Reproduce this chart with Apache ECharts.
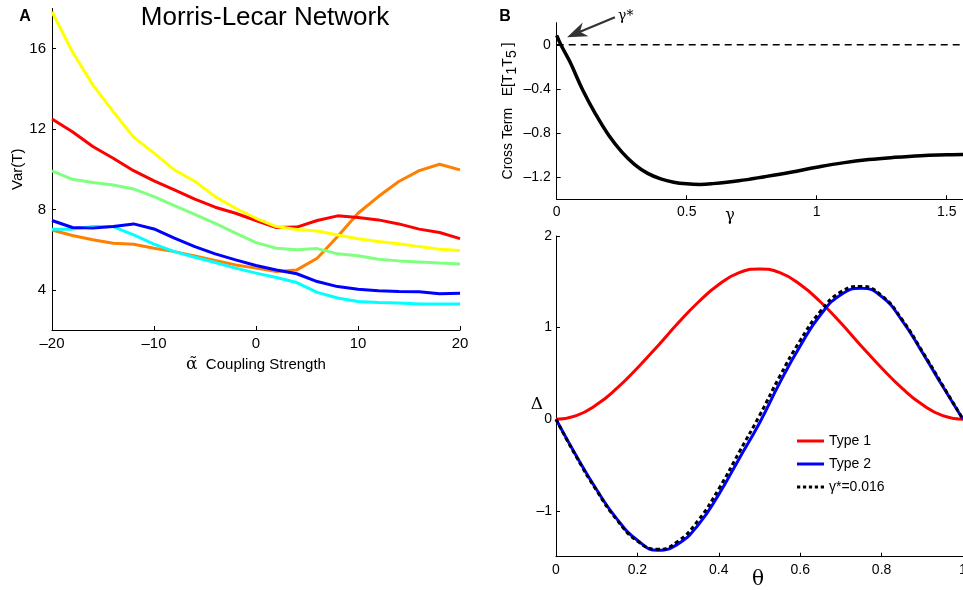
<!DOCTYPE html>
<html><head><meta charset="utf-8">
<script src="https://cdn.jsdelivr.net/npm/echarts@6/dist/echarts.min.js"></script>
<style>html,body{margin:0;padding:0;background:#fff}#c{width:963px;height:590px}</style>
</head><body><div id="c"></div>
<script>
// Panel A data
const alpha = [-20,-18,-16,-14,-12,-10,-8,-6,-4,-2,0,2,4,6,8,10,12,14,16,18,20];
const yellowVar = [17.84,15.85,14.2,12.87,11.6,10.8,9.97,9.4,8.64,8.06,7.56,7.15,7.0,6.93,6.73,6.54,6.4,6.29,6.15,6.02,5.96];
const redVar    = [12.5,11.87,11.13,10.55,9.93,9.42,8.97,8.51,8.11,7.81,7.45,7.1,7.12,7.45,7.68,7.6,7.48,7.28,7.02,6.85,6.55];
const greenVar  = [9.92,9.5,9.34,9.22,9.02,8.64,8.19,7.76,7.31,6.82,6.35,6.07,5.99,6.05,5.79,5.69,5.52,5.44,5.39,5.33,5.29];
const blueVar   = [7.45,7.1,7.07,7.15,7.28,7.03,6.57,6.15,5.79,5.49,5.21,4.99,4.8,4.41,4.16,4.03,3.95,3.92,3.9,3.8,3.83];
const cyanVar   = [7.02,7.02,7.15,7.15,6.73,6.27,5.9,5.62,5.36,5.08,4.83,4.61,4.36,3.87,3.59,3.42,3.37,3.34,3.3,3.3,3.3];
const orangeVar = [6.98,6.7,6.49,6.32,6.27,6.07,5.9,5.69,5.46,5.24,5.08,4.91,4.99,5.57,6.65,7.81,8.64,9.39,9.93,10.25,9.97];
const varTicks = [4,8,12,16];

// Panel B top data
const gamma = [0,0.016,0.05,0.1,0.15,0.2,0.25,0.3,0.35,0.4,0.45,0.5,0.55,0.6,0.7,0.8,0.9,1.0,1.1,1.2,1.3,1.4,1.5,1.5625];
const crossTerm = [0.085,0,-0.15,-0.41,-0.63,-0.82,-0.97,-1.085,-1.165,-1.215,-1.245,-1.26,-1.265,-1.258,-1.232,-1.195,-1.155,-1.11,-1.07,-1.04,-1.02,-1.005,-0.997,-0.993];
const crossTicks = [-1.2,-0.8,-0.4,0];
const gammaTicks = [0,0.5,1,1.5];

// Panel B bottom data
const theta = [0,0.05,0.1,0.15,0.2,0.25,0.3,0.35,0.4,0.45,0.5,0.55,0.6,0.65,0.7,0.75,0.8,0.85,0.9,0.95,1];
const type1 = [0,0.04,0.16,0.34,0.56,0.80,1.05,1.28,1.47,1.60,1.64,1.60,1.47,1.28,1.05,0.80,0.56,0.34,0.16,0.04,0];
const type2 = [0,-0.40,-0.77,-1.09,-1.32,-1.43,-1.36,-1.15,-0.82,-0.43,-0.04,0.40,0.80,1.14,1.36,1.43,1.34,1.08,0.73,0.36,0];
const gammaStar = [0,-0.41,-0.78,-1.10,-1.33,-1.42,-1.33,-1.10,-0.76,-0.36,0.04,0.47,0.86,1.18,1.39,1.45,1.35,1.09,0.74,0.37,0];
const deltaTicks = [-1,0,1,2];

const FONT = 'Liberation Sans, Arial, sans-serif';
const SERIF = 'DejaVu Serif, serif';
const minus = v => String(+(+v).toFixed(3)).replace('-', '\u2013');
const zip = (xs, ys) => xs.map((x, i) => [x, ys[i]]);

function axisBase(extra) {
  return Object.assign({
    axisLine: {show: true, onZero: false, lineStyle: {color: '#000', width: 1}},
    axisTick: {show: true, inside: true, length: 4, lineStyle: {color: '#000'}},
    splitLine: {show: false},
    axisLabel: {color: '#000', fontFamily: FONT, fontSize: 13, formatter: minus}
  }, extra);
}

const chart = echarts.init(document.getElementById('c'), null, {renderer: 'canvas'});
const lineA = (name, data, color) => ({
  type: 'line', name, xAxisIndex: 0, yAxisIndex: 0, data: zip(alpha, data),
  showSymbol: false, symbol: 'none', lineStyle: {color, width: 3}, itemStyle: {color}, z: 3
});

const solidIcon = 'path://M0,0h27v3h-27z';
const dashIcon = 'path://M0,0h3.3v3h-3.3z M6,0h3.3v3h-3.3z M12,0h3.3v3h-3.3z M18,0h3.3v3h-3.3z M24,0h3.3v3h-3.3z';

chart.setOption({
  animation: false,
  backgroundColor: '#fff',
  grid: [
    {left: 52, top: 8.5, width: 408, height: 321.5, outerBoundsMode: 'none', containLabel: false},
    {left: 556.7, top: 22.7, width: 406.3, height: 176.6, outerBoundsMode: 'none', containLabel: false},
    {left: 556, top: 236, width: 407, height: 320.7, outerBoundsMode: 'none', containLabel: false}
  ],
  xAxis: [
    axisBase({gridIndex: 0, type: 'value', min: -20, max: 20, interval: 10,
      name: '{a|α\u0303}  Coupling Strength', nameLocation: 'middle', nameGap: 22,
      nameTextStyle: {color: '#000', fontFamily: FONT, fontSize: 15,
        rich: {a: {fontFamily: SERIF, fontSize: 17, color: '#000'}}},
      axisLabel: {color: '#000', fontFamily: FONT, fontSize: 15, margin: 6, formatter: minus}}),
    axisBase({gridIndex: 1, type: 'value', min: 0, max: 1.5625,
      axisTick: {show: true, inside: true, length: 4, lineStyle: {color: '#000'}, customValues: gammaTicks},
      axisLabel: {color: '#000', fontFamily: FONT, fontSize: 14, margin: 6, formatter: minus, customValues: gammaTicks}}),
    axisBase({gridIndex: 2, type: 'value', min: 0, max: 1, interval: 0.2,
      axisLabel: {color: '#000', fontFamily: FONT, fontSize: 14, margin: 6, formatter: minus, showMaxLabel: true}})
  ],
  yAxis: [
    axisBase({gridIndex: 0, type: 'value', min: 2, max: 18,
      name: 'Var(T)', nameLocation: 'middle', nameGap: 27,
      nameTextStyle: {color: '#000', fontFamily: FONT, fontSize: 15},
      axisTick: {show: true, inside: true, length: 4, lineStyle: {color: '#000'}, customValues: varTicks},
      axisLabel: {color: '#000', fontFamily: FONT, fontSize: 15, margin: 6, formatter: minus, customValues: varTicks}}),
    axisBase({gridIndex: 1, type: 'value', min: -1.4, max: 0.2,
      name: 'Cross Term   E[T{s|1}T{s|5} ]', nameLocation: 'middle', nameGap: 38,
      nameTextStyle: {color: '#000', fontFamily: FONT, fontSize: 14,
        rich: {s: {fontFamily: FONT, fontSize: 14, color: '#000', padding: [0, 0, -8, 0]}}},
      axisTick: {show: true, inside: true, length: 4, lineStyle: {color: '#000'}, customValues: crossTicks},
      axisLabel: {color: '#000', fontFamily: FONT, fontSize: 14, margin: 6, formatter: minus, customValues: crossTicks}}),
    axisBase({gridIndex: 2, type: 'value', min: -1.5, max: 2,
      axisTick: {show: true, inside: true, length: 4, lineStyle: {color: '#000'}, customValues: deltaTicks},
      axisLabel: {color: '#000', fontFamily: FONT, fontSize: 14, margin: 4, formatter: minus, customValues: deltaTicks}})
  ],
  legend: {
    show: true, orient: 'vertical', left: 792, top: 428, itemWidth: 27, itemHeight: 3, itemGap: 7,
    data: [
      {name: 'Type 1', icon: solidIcon, itemStyle: {color: '#ff0000'}},
      {name: 'Type 2', icon: solidIcon, itemStyle: {color: '#0000ff'}},
      {name: 'γ*=0.016', icon: dashIcon, itemStyle: {color: '#000'}}
    ],
    textStyle: {color: '#000', fontFamily: FONT, fontSize: 14, lineHeight: 16},
    backgroundColor: 'transparent'
  },
  series: [
    lineA('orange', orangeVar, '#ff8000'),
    lineA('cyan', cyanVar, '#00ffff'),
    lineA('blue', blueVar, '#0000ff'),
    lineA('green', greenVar, '#80ff80'),
    lineA('red', redVar, '#ff0000'),
    lineA('yellow', yellowVar, '#ffff00'),
    {
      type: 'line', name: 'zero', xAxisIndex: 1, yAxisIndex: 1,
      data: [[0, 0], [1.5625, 0]], showSymbol: false, symbol: 'none',
      lineStyle: {color: '#000', width: 1.5, type: [7, 5]}
    },
    {
      type: 'line', name: 'cross', xAxisIndex: 1, yAxisIndex: 1,
      data: zip(gamma, crossTerm), smooth: 0.4, showSymbol: false, symbol: 'none',
      lineStyle: {color: '#000', width: 3.5}, clip: false
    },
    {
      type: 'line', name: 'Type 1', xAxisIndex: 2, yAxisIndex: 2,
      data: zip(theta, type1), smooth: true, showSymbol: false, symbol: 'none',
      lineStyle: {color: '#ff0000', width: 3}, itemStyle: {color: '#ff0000'}
    },
    {
      type: 'line', name: 'Type 2', xAxisIndex: 2, yAxisIndex: 2,
      data: zip(theta, type2), smooth: true, showSymbol: false, symbol: 'none',
      lineStyle: {color: '#0000ff', width: 3}, itemStyle: {color: '#0000ff'}
    },
    {
      type: 'line', name: 'γ*=0.016', xAxisIndex: 2, yAxisIndex: 2,
      data: zip(theta, gammaStar), smooth: true, showSymbol: false, symbol: 'none',
      lineStyle: {color: '#000', width: 3, type: [4, 3]}, itemStyle: {color: '#000'}
    }
  ]
});

// Annotation arrow pointing at gamma* (positions in data space of panel B top)
const tip = chart.convertToPixel({gridIndex: 1}, [0.04, 0.069]);
const tail = chart.convertToPixel({gridIndex: 1}, [0.224, 0.25]);
const txt = chart.convertToPixel({gridIndex: 1}, [0.236, 0.255]);
const dx = tail[0] - tip[0], dy = tail[1] - tip[1];
const L = Math.hypot(dx, dy), ux = dx / L, uy = dy / L;
const headLen = 20, headW = 7.5, notch = 6;
const bx = tip[0] + ux * headLen, by = tip[1] + uy * headLen;
const nx = tip[0] + ux * (headLen - notch), ny = tip[1] + uy * (headLen - notch);
const px = -uy, py = ux;

chart.setOption({
  graphic: [
    {type: 'text', x: 265, y: 18, style: {text: 'Morris-Lecar Network', font: '26px ' + FONT, fill: '#000', textAlign: 'center', textVerticalAlign: 'middle'}},
    {type: 'text', x: 25, y: 17, style: {text: 'A', font: 'bold 16px ' + FONT, fill: '#000', textAlign: 'center', textVerticalAlign: 'middle'}},
    {type: 'text', x: 505, y: 17, style: {text: 'B', font: 'bold 16px ' + FONT, fill: '#000', textAlign: 'center', textVerticalAlign: 'middle'}},
    {type: 'text', x: 730, y: 216, style: {text: 'γ', font: '16px ' + SERIF, fill: '#000', textAlign: 'center', textVerticalAlign: 'middle'}},
    {type: 'text', x: 758, y: 580, style: {text: 'θ', font: '20px ' + SERIF, fill: '#000', textAlign: 'center', textVerticalAlign: 'middle'}},
    {type: 'text', x: 537, y: 405, style: {text: 'Δ', font: '17px ' + SERIF, fill: '#000', textAlign: 'center', textVerticalAlign: 'middle'}},
    {type: 'line', shape: {x1: nx, y1: ny, x2: tail[0], y2: tail[1]}, style: {stroke: '#333', lineWidth: 2.2}},
    {type: 'polygon', shape: {points: [[tip[0], tip[1]], [bx + px * headW, by + py * headW], [nx, ny], [bx - px * headW, by - py * headW]]}, style: {fill: '#333'}},
    {type: 'text', x: txt[0], y: txt[1], style: {text: 'γ*', font: '14px ' + SERIF, fill: '#000', textAlign: 'left', textVerticalAlign: 'middle'}}
  ]
});
</script></body></html>
